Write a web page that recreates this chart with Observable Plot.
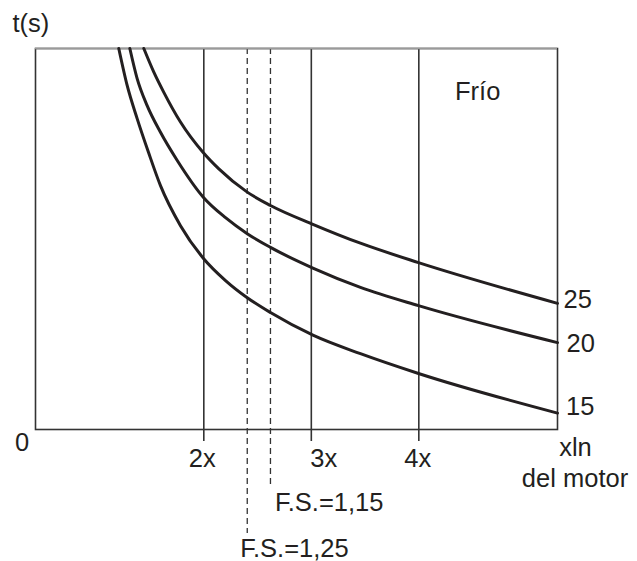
<!DOCTYPE html>
<html>
<head>
<meta charset="utf-8">
<script src="https://cdn.jsdelivr.net/npm/d3@7"></script>
<script src="https://cdn.jsdelivr.net/npm/@observablehq/plot@0.6"></script>
<style>
  html, body { margin: 0; padding: 0; background: #fff; }
  #chart svg { display: block; }
</style>
</head>
<body>
<div id="chart"></div>
<script>
// ---- data (x in multiples of In, y = t in arbitrary units 0..100) ----
const seriesNames = ["15", "20", "25"];
const curve15X = [1.209, 1.287, 1.380, 1.486, 1.597, 1.783, 1.997, 2.202, 2.404, 2.62, 3.02, 3.457, 3.997, 5.29];
const curve15Y = [100, 90.3, 81.6, 72.7, 64.0, 53.5, 44.9, 39.1, 34.6, 30.7, 24.7, 19.9, 14.7, 4.3];
const curve20X = [1.312, 1.380, 1.473, 1.597, 1.753, 1.997, 2.202, 2.404, 2.62, 3.02, 3.457, 3.997, 5.29];
const curve20Y = [100, 92.1, 85.0, 78.0, 70.6, 60.9, 55.6, 51.4, 47.8, 42.3, 37.3, 32.5, 22.8];
const curve25X = [1.442, 1.535, 1.628, 1.783, 1.994, 2.140, 2.404, 2.62, 3.02, 3.457, 3.997, 5.29];
const curve25Y = [100, 93.8, 88.5, 80.7, 72.7, 68.4, 62.3, 58.8, 53.8, 48.9, 43.8, 33.1];

const gridX = [2, 3, 4];
const gridLabels = ["2x", "3x", "4x"];
const fsX = [2.404, 2.62];
const fsLabels = ["F.S.=1,25", "F.S.=1,15"];

const xDomain = [0.4344, 5.29];
const yDomain = [0, 100];

// ---- build tables ----
const curves = [
  {name: "15", xs: curve15X, ys: curve15Y},
  {name: "20", xs: curve20X, ys: curve20Y},
  {name: "25", xs: curve25X, ys: curve25Y}
];
const lineData = curves.flatMap(c => c.xs.map((x, i) => ({series: c.name, x, y: c.ys[i]})));
const endData = curves.map(c => ({series: c.name, x: c.xs[c.xs.length - 1], y: c.ys[c.ys.length - 1]}));

const ink = "#231f20";
const font = "Liberation Sans, Arial, Helvetica, sans-serif";
const fs = 25.5;

// per-label nudges (visual offsets)
const curveLabelNudge = {"25": {dx: 6, dy: 5}, "20": {dx: 9, dy: 9}, "15": {dx: 8.5, dy: 1.5}};
const gridLabelDx = [-1.5, 12.5, -1];
const fsLabelNudge = [{dx: -7, dy: 127.5, len: 104}, {dx: 4.5, dy: 81, len: 58}];

const marks = [
  // interior vertical lines with ticks below the axis
  Plot.ruleX(gridX, {stroke: "#333", strokeWidth: 1.6, insetBottom: -12}),
  // dashed service-factor lines
  ...fsX.map((x, i) => Plot.ruleX([x], {stroke: "#333", strokeWidth: 1.3, strokeDasharray: "6,4", insetBottom: -fsLabelNudge[i].len})),
  // frame
  Plot.frame({stroke: "#333", strokeWidth: 1.6}),
  Plot.ruleY([yDomain[1]], {stroke: "#9a9a9a", strokeWidth: 1.6}),
  // curves
  Plot.line(lineData, {x: "x", y: "y", z: "series", stroke: ink, strokeWidth: 3, curve: "monotone-x"}),
  // curve labels
  ...seriesNames.map(s => Plot.text(endData.filter(d => d.series === s), {
    x: "x", y: "y", text: "series", textAnchor: "start", lineAnchor: "bottom",
    dx: curveLabelNudge[s].dx, dy: curveLabelNudge[s].dy, fontSize: fs, fontFamily: font, fill: ink
  })),
  // grid tick labels
  ...gridX.map((x, i) => Plot.text([gridLabels[i]], {
    x: [x], text: d => d, frameAnchor: "bottom", lineAnchor: "bottom",
    dx: gridLabelDx[i], dy: 37.7, fontSize: fs, fontFamily: font, fill: ink
  })),
  // F.S. labels
  ...fsX.map((x, i) => Plot.text([fsLabels[i]], {
    x: [x], text: d => d, frameAnchor: "bottom", lineAnchor: "bottom", textAnchor: "start",
    dx: fsLabelNudge[i].dx, dy: fsLabelNudge[i].dy, fontSize: fs, fontFamily: font, fill: ink
  })),
  // axis texts
  Plot.text(["0"], {text: d => d, frameAnchor: "bottom-left", lineAnchor: "bottom", textAnchor: "middle",
    dx: -13.5, dy: 21, fontSize: fs, fontFamily: font, fill: ink}),
  Plot.text(["t(s)"], {text: d => d, frameAnchor: "top-left", lineAnchor: "bottom", textAnchor: "start",
    dx: -23, dy: -17, fontSize: fs, fontFamily: font, fill: ink}),
  Plot.text(["Frío"], {text: d => d, frameAnchor: "top-right", lineAnchor: "bottom", textAnchor: "start",
    dx: -102.5, dy: 51.3, fontSize: fs, fontFamily: font, fill: ink}),
  Plot.text(["xln"], {text: d => d, frameAnchor: "bottom-right", lineAnchor: "bottom", textAnchor: "middle",
    dx: 18, dy: 26, fontSize: fs, fontFamily: font, fill: ink}),
  Plot.text(["del motor"], {text: d => d, frameAnchor: "bottom-right", lineAnchor: "bottom", textAnchor: "middle",
    dx: 17.5, dy: 57, fontSize: fs, fontFamily: font, fill: ink})
];

const chart = Plot.plot({
  width: 637,
  height: 561,
  marginLeft: 35,
  marginRight: 80,
  marginTop: 48,
  marginBottom: 132,
  x: {domain: xDomain, axis: null},
  y: {domain: yDomain, axis: null},
  style: {background: "#fff", overflow: "visible"},
  marks
});
document.getElementById("chart").appendChild(chart);
</script>
</body>
</html>
